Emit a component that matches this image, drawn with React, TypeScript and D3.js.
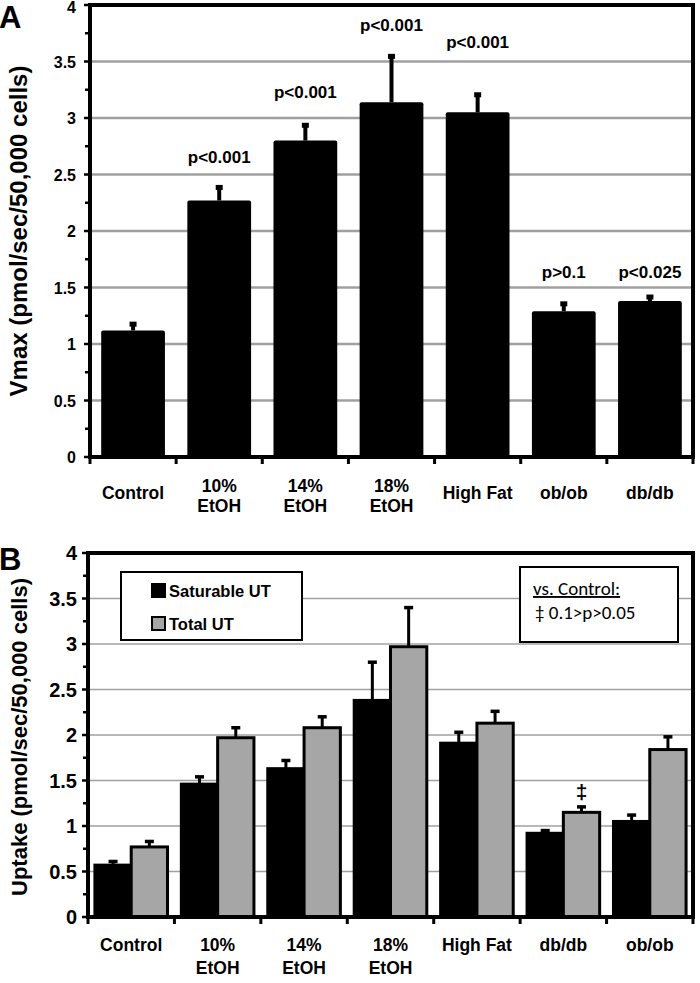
import React from "react";
import * as d3 from "d3";

const categoriesA = ["Control", "10%\nEtOH", "14%\nEtOH", "18%\nEtOH", "High Fat", "ob/ob", "db/db"];
const vmaxValues = [1.12, 2.27, 2.8, 3.14, 3.05, 1.29, 1.38];
const vmaxErrTop = [1.18, 2.39, 2.94, 3.55, 3.21, 1.36, 1.42];
const pLabelsA = ["", "p<0.001", "p<0.001", "p<0.001", "p<0.001", "p>0.1", "p<0.025"];
const pLabelYA = [0, 2.6, 3.18, 3.77, 3.62, 1.58, 1.58];

const categoriesB = ["Control", "10%\nEtOH", "14%\nEtOH", "18%\nEtOH", "High Fat", "db/db", "ob/ob"];
const seriesB = ["Saturable UT", "Total UT"];
const saturableValues = [0.57, 1.46, 1.63, 2.38, 1.91, 0.92, 1.05];
const saturableErrTop = [0.61, 1.54, 1.72, 2.8, 2.03, 0.95, 1.12];
const totalValues = [0.77, 1.97, 2.08, 2.97, 2.13, 1.15, 1.84];
const totalErrTop = [0.83, 2.08, 2.2, 3.4, 2.26, 1.21, 1.98];
const markersB = ["", "", "", "", "", "‡", ""];

const yTicks = [0, 0.5, 1, 1.5, 2, 2.5, 3, 3.5, 4];
const yMinor = [0.25, 0.75, 1.25, 1.75, 2.25, 2.75, 3.25, 3.75];

const ARIAL = "Liberation Sans, Arial, sans-serif";
const CAL = "Carlito, Lato, Open Sans, sans-serif";

function Frame({ x, y, left, right, bottom, gridW, cats, font, fs, labelY, lineH, centerSingle }: any) {
  const idx = d3.range(cats.length + 1);
  const step = (right - left) / cats.length;
  return (
    <g>
      {yTicks.filter((t) => t > 0 && t < 4).map((t) => (
        <line key={"g" + t} x1={left} x2={right} y1={y(t)} y2={y(t)} stroke="#a0a0a0" strokeWidth={gridW} />
      ))}
      {yTicks.map((t) => (
        <line key={"t" + t} x1={left - 6} x2={left} y1={y(t)} y2={y(t)} stroke="#000" strokeWidth={2.5} />
      ))}
      {yMinor.map((t) => (
        <line key={"m" + t} x1={left - 5} x2={left} y1={y(t)} y2={y(t)} stroke="#000" strokeWidth={2.5} />
      ))}
      {idx.map((i) => (
        <line key={"x" + i} x1={left + i * step} x2={left + i * step} y1={bottom} y2={bottom + 7} stroke="#000" strokeWidth={3} />
      ))}
      {cats.map((c: string, i: number) => {
        const lines = c.split("\n");
        const cx = x(c)! + x.bandwidth() / 2;
        const y0 = lines.length === 1 && centerSingle ? labelY + lineH / 2 - 3 : labelY;
        return (
          <text key={"l" + i} x={cx} y={y0} textAnchor="middle" fontFamily={font} fontWeight="bold" fontSize={fs}>
            {lines.map((ln, j) => (
              <tspan key={j} x={cx} dy={j === 0 ? 0 : lineH}>{ln}</tspan>
            ))}
          </text>
        );
      })}
    </g>
  );
}

export default function App() {
  // Panel A
  const aL = 90, aR = 693, aT = 5, aB = 457;
  const yA = d3.scaleLinear().domain([0, 4]).range([aB, aT]);
  const xA = d3.scaleBand<string>().domain(categoriesA).range([aL, aR]).paddingInner(0.26).paddingOuter(0.13);

  // Panel B
  const bL = 88, bR = 693, bT = 553, bB = 917;
  const yB = d3.scaleLinear().domain([0, 4]).range([bB, bT]);
  const xB = d3.scaleBand<string>().domain(categoriesB).range([bL, bR]).paddingInner(0.16).paddingOuter(0.08);
  const xSub = d3.scaleBand<string>().domain(seriesB).range([0, xB.bandwidth()]);

  return (
    <svg width={700} height={983} style={{ position: "absolute", left: 0, top: 0, background: "#fff" }}>
      {/* ---------- Panel A ---------- */}
      <Frame x={xA} y={yA} left={aL} right={aR} bottom={aB} gridW={2.5} cats={categoriesA} font={ARIAL} fs={17.5} labelY={492} lineH={20} centerSingle={true} />
      {categoriesA.map((c, i) => {
        const bx = xA(c)!;
        const cx = bx + xA.bandwidth() / 2;
        return (
          <g key={"a" + i}>
            <rect x={bx} y={yA(vmaxValues[i])} width={xA.bandwidth()} height={aB - yA(vmaxValues[i])} fill="#000" rx={2} />
            <line x1={cx} x2={cx} y1={yA(vmaxValues[i])} y2={yA(vmaxErrTop[i])} stroke="#000" strokeWidth={4} />
            <rect x={cx - 3.5} y={yA(vmaxErrTop[i]) - 2} width={7} height={5} fill="#000" />
            {pLabelsA[i] && (
              <text x={cx} y={yA(pLabelYA[i])} textAnchor="middle" fontFamily={ARIAL} fontWeight="bold" fontSize={17}>
                {pLabelsA[i]}
              </text>
            )}
          </g>
        );
      })}
      {yTicks.map((t) => (
        <text key={"ya" + t} x={76} y={t === 4 ? 13 : yA(t) + 6} textAnchor="end" fontFamily={ARIAL} fontWeight="bold" fontSize={16}>
          {t}
        </text>
      ))}
      <path d={`M${aL},${aB} V${aT} H${aR} V${aB} Z`} fill="none" stroke="#000" strokeWidth={4} />
      <text x={27} y={(aT + aB) / 2} transform={`rotate(-90 27 ${(aT + aB) / 2})`} textAnchor="middle" fontFamily={ARIAL} fontWeight="bold" fontSize={24}>
        Vmax (pmol/sec/50,000 cells)
      </text>
      <text x={-1} y={28} fontFamily={ARIAL} fontWeight="bold" fontSize={31}>A</text>

      {/* ---------- Panel B ---------- */}
      <Frame x={xB} y={yB} left={bL} right={bR} bottom={bB} gridW={1.5} cats={categoriesB} font={ARIAL} fs={17.5} labelY={951} lineH={23} centerSingle={false} />
      {categoriesB.map((c, i) => {
        const gx = xB(c)!;
        const vals = [saturableValues[i], totalValues[i]];
        const errs = [saturableErrTop[i], totalErrTop[i]];
        return (
          <g key={"b" + i}>
            {seriesB.map((s, k) => {
              const bx = gx + xSub(s)!;
              const cx = bx + xSub.bandwidth() / 2;
              return (
                <g key={s}>
                  <line x1={cx} x2={cx} y1={yB(vals[k])} y2={yB(errs[k])} stroke="#000" strokeWidth={3} />
                  <line x1={cx - 4.5} x2={cx + 4.5} y1={yB(errs[k])} y2={yB(errs[k])} stroke="#000" strokeWidth={3.5} />
                  <rect x={bx} y={yB(vals[k])} width={xSub.bandwidth()} height={bB - yB(vals[k])} fill={k === 0 ? "#000" : "#a6a6a6"} stroke="#000" strokeWidth={3} />
                </g>
              );
            })}
            {markersB[i] && (
              <text x={gx + xSub("Total UT")! + xSub.bandwidth() / 2} y={yB(1.3)} textAnchor="middle" fontFamily={ARIAL} fontWeight="bold" fontSize={21}>
                {markersB[i]}
              </text>
            )}
          </g>
        );
      })}
      {yTicks.map((t) => (
        <text key={"yb" + t} x={77} y={yB(t) + 7} textAnchor="end" fontFamily={ARIAL} fontWeight="bold" fontSize={20}>
          {t}
        </text>
      ))}
      <path d={`M${bL},${bB} V${bT} H${bR} V${bB} Z`} fill="none" stroke="#000" strokeWidth={4} />
      <text x={27} y={(bT + bB) / 2 + 2} transform={`rotate(-90 27 ${(bT + bB) / 2 + 2})`} textAnchor="middle" fontFamily={ARIAL} fontWeight="bold" fontSize={22}>
        Uptake (pmol/sec/50,000 cells)
      </text>
      <text x={-1} y={570} fontFamily={ARIAL} fontWeight="bold" fontSize={31}>B</text>

      {/* legend */}
      <rect x={121} y={572} width={181} height={68} fill="#fff" stroke="#000" strokeWidth={2} />
      {seriesB.map((s, k) => (
        <g key={"lg" + s}>
          <rect x={152} y={584 + k * 33} width={13} height={13} fill={k === 0 ? "#000" : "#a6a6a6"} stroke="#000" strokeWidth={2} />
          <text x={169} y={597 + k * 33} fontFamily={ARIAL} fontWeight="bold" fontSize={16.5}>{s}</text>
        </g>
      ))}

      {/* stats box */}
      <rect x={520} y={567} width={158} height={75} fill="#fff" stroke="#000" strokeWidth={2} />
      <text x={533} y={595} fontFamily={CAL} fontSize={19} textDecoration="underline">vs. Control:</text>
      <text x={535} y={619} fontFamily={CAL} fontSize={19}>‡ 0.1&gt;p&gt;0.05</text>
    </svg>
  );
}
